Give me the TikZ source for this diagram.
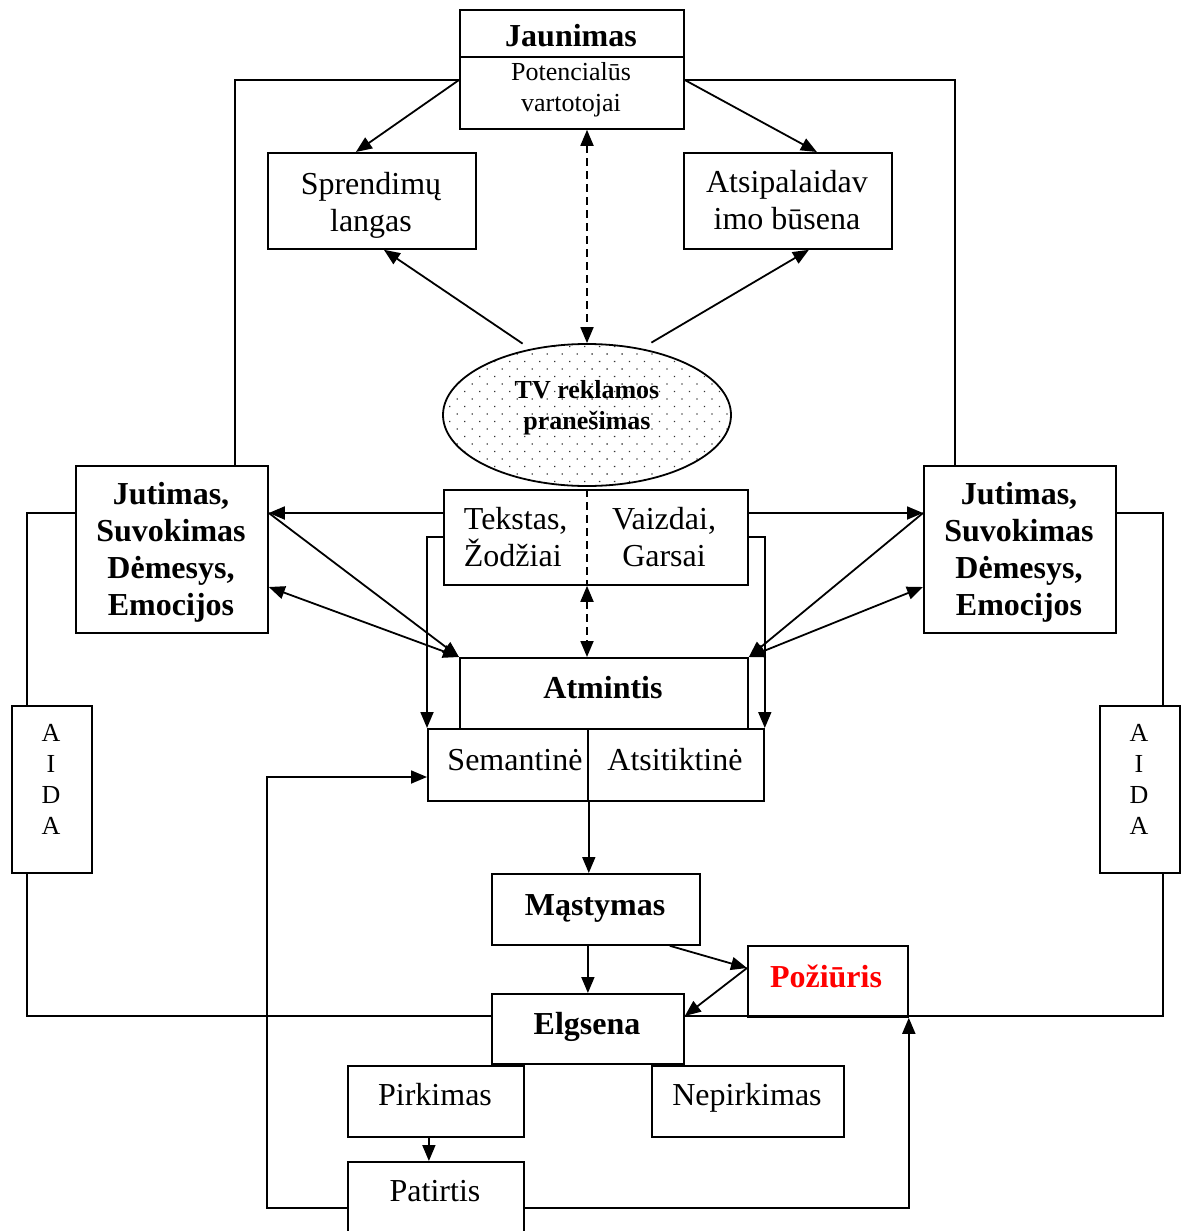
\documentclass[tikz,border=0pt]{standalone}
\usepackage{fontspec}
\setmainfont{Liberation Serif}
\usetikzlibrary{arrows.meta,shapes.geometric,patterns.meta}
\newcommand\fsbig{\fontsize{32}{37}\selectfont}
\newcommand\fssmall{\fontsize{26}{31}\selectfont}
\begin{document}
\begin{tikzpicture}[x=1pt,y=-1pt,
  line width=1.8pt,
  tip/.style={-{Triangle[length=16pt,width=13pt]}},
  tips/.style={{Triangle[length=16pt,width=13pt]}-{Triangle[length=16pt,width=13pt]}},
  dashline/.style={dash pattern=on 8pt off 5pt},
  box/.style={draw, line width=1.8pt, inner sep=0pt, anchor=north west},
  txt/.style={inner sep=0pt, align=center, font=\fsbig},
  btxt/.style={txt, font=\fsbig\bfseries},
]
\useasboundingbox (0,0) rectangle (1185,1231);

% helper levels for the horizontal connectors
\coordinate (yJ) at (0,80);
\coordinate (yT) at (0,513);
\coordinate (yL) at (0,537);
\coordinate (yE) at (0,587);
\coordinate (yS) at (0,777);
\coordinate (yB) at (0,1016);
\coordinate (yP) at (0,1208);
\coordinate (xR) at (267,0);

% top: target group
\node[box, minimum width=224pt, minimum height=47pt] (jau1) at (459,9) {};
\node[box, minimum width=224pt, minimum height=72pt] (jau2) at (459,56) {};
\node[btxt, anchor=base] (jaut) at (571,47) {Jaunimas};
\node[txt, font=\fssmall] (jaus) at (571,90) {Potencialūs\\vartotojai};

\node[box, minimum width=208pt, minimum height=96pt] (spr) at (267,152) {};
\node[txt] (sprt) at (371,205) {Sprendimų\\langas};
\node[box, minimum width=208pt, minimum height=96pt] (ats) at (683,152) {};
\node[txt] (atst) at (787,200) {Atsipalaidav\\imo būsena};

% the message
\node[ellipse, draw, inner sep=0pt, minimum width=288pt, minimum height=142pt,
      pattern={Dots[distance=10.6pt, angle=45, radius=0.9pt]}, pattern color=black!80]
      (tv) at (587,415) {};
\node[btxt, font=\fssmall\bfseries] (tvt) at (587,408) {TV reklamos\\pranešimas};

% text / image channel
\node[box, minimum width=304pt, minimum height=95pt] (inp) at (443,489) {};
\node[txt, align=left, anchor=west] (tek) at (463,537) {Tekstas,\\Žodžiai};
\node[txt] (vai) at (664,537) {Vaizdai,\\Garsai};
\draw[dashline] (tv.south |- inp.north) -- (tv.south |- inp.south);

% perception boxes
\node[box, minimum width=192pt, minimum height=167pt] (jl) at (75,465) {};
\node[btxt] (jlt) at (171,552) {Jutimas,\\Suvokimas\\Dėmesys,\\Emocijos};
\node[box, minimum width=192pt, minimum height=167pt] (jr) at (923,465) {};
\node[btxt] (jrt) at (1019,552) {Jutimas,\\Suvokimas\\Dėmesys,\\Emocijos};

% AIDA side boxes
\node[box, minimum width=80pt, minimum height=167pt] (al) at (11,705) {};
\node[txt, font=\fssmall] (alt) at (51,779) {A\\I\\D\\A};
\node[box, minimum width=80pt, minimum height=167pt] (ar) at (1099,705) {};
\node[txt, font=\fssmall] (art) at (1139,779) {A\\I\\D\\A};

% memory
\node[box, minimum width=288pt, minimum height=71pt] (atm) at (459,657) {};
\node[btxt] (atmt) at (603,688) {Atmintis};
\node[box, minimum width=160pt, minimum height=72pt] (sem) at (427,728) {};
\node[txt] (semt) at (515,760) {Semantinė};
\node[box, minimum width=176pt, minimum height=72pt] (asi) at (587,728) {};
\node[txt] (asit) at (675,760) {Atsitiktinė};

% thinking, attitude, behaviour
\node[box, minimum width=208pt, minimum height=71pt] (mas) at (491,873) {};
\node[btxt] (mast) at (595,908) {Mąstymas};
\node[box, minimum width=160pt, minimum height=71pt] (poz) at (747,945) {};
\node[btxt, text=red] (pozt) at (826,976) {Požiūris};
\node[box, minimum width=192pt, minimum height=70pt] (elg) at (491,993) {};
\node[btxt] (elgt) at (587,1027) {Elgsena};
\node[box, minimum width=176pt, minimum height=71pt] (pir) at (347,1065) {};
\node[txt] (pirt) at (435,1095) {Pirkimas};
\node[box, minimum width=192pt, minimum height=71pt] (nep) at (651,1065) {};
\node[txt] (nept) at (747,1098) {Nepirkimas};
\node[box, minimum width=176pt, minimum height=100pt] (pat) at (347,1161) {};
\node[txt] (patt) at (435,1191) {Patirtis};

% connectors from the target group
\draw[tip] (jau2.west |- yJ) -- ([xshift=-16pt]spr.north);
\draw[tip] (jau2.east |- yJ) -- ([xshift=29pt]ats.north);
\draw[tip] ([yshift=7pt]tv.135) -- ([xshift=12pt]spr.south);
\draw[tip] ([yshift=8pt]tv.45) -- ([xshift=21pt]ats.south);
\draw[tips, dashline] (tv.north |- jau2.south) -- (tv.north);
\draw (jau2.west |- yJ) -| ([xshift=160pt]jl.north west);
\draw (jau2.east |- yJ) -| ([xshift=32pt]jr.north west);

% channel to perception and memory
\draw[tip] (inp.west |- yT) -- (jl.east |- yT);
\draw[tip] (inp.east |- yT) -- (jr.west |- yT);
\draw[tip] (inp.west |- yL) -| (sem.north west);
\draw[tip] (inp.east |- yL) -| (asi.north east);
\draw[tip] (jl.east |- yT) -- (atm.north west);
\draw[tips] (jl.east |- yE) -- (atm.north west);
\draw[tip] (jr.west |- yT) -- (atm.north east);
\draw[tips] (jr.west |- yE) -- (atm.north east);
\draw[tips, dashline] (tv.south |- inp.south) -- (tv.south |- atm.north);

% AIDA loops
\draw (jl.west |- yT) -| ([xshift=16pt]al.north west);
\draw ([xshift=16pt]al.south west) |- (elg.west |- yB);
\draw (jr.east |- yT) -| ([xshift=64pt]ar.north west);
\draw ([xshift=64pt]ar.south west) |- (elg.east |- yB);

% memory to behaviour
\draw[tip] (sem.south east) -- (sem.south east |- mas.north);
\draw[tip] (elg.north |- mas.south) -- (elg.north);
\draw[tip] ([xshift=-31pt]mas.south east) -- ([yshift=-23pt]poz.north west);
\draw[tip] ([yshift=-23pt]poz.north west) -- (elg.east |- yB);
\draw[tip] ([xshift=-7pt]pir.south) -- ([xshift=-7pt]pat.north);

% experience feedback
\draw[tip] (pat.west |- yP) -| (xR |- yS) -- (sem.west |- yS);
\draw[tip] (pat.east |- yP) -| (poz.south east);
\end{tikzpicture}
\end{document}
